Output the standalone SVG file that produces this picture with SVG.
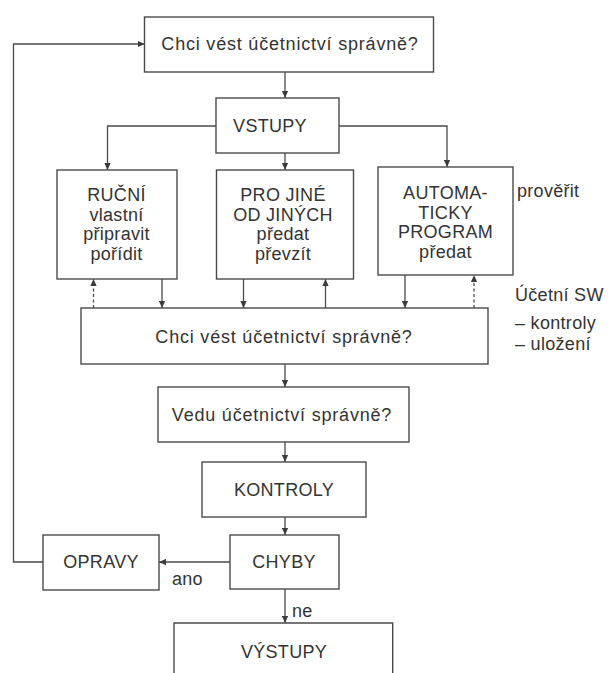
<svg xmlns="http://www.w3.org/2000/svg" width="612" height="673" viewBox="0 0 612 673">
  <defs>
    <marker id="ah" viewBox="0 0 10 10" refX="10" refY="5" markerWidth="7" markerHeight="7" markerUnits="userSpaceOnUse" orient="auto">
      <path d="M0,0.5 L10,5 L0,9.5 Z" fill="#3c3c3c"/>
    </marker>
  </defs>
  <style>
    .box { fill: #ffffff; stroke: #4a4a4a; stroke-width: 1.4; }
    .line { fill: none; stroke: #4a4a4a; stroke-width: 1.3; }
    .dash { stroke-dasharray: 3 2.5; }
    text { font-family: "Liberation Sans", Arial, sans-serif; font-size: 18px; fill: #333333; letter-spacing: 0.3px; }
    .q { letter-spacing: 0.8px; }
    .c { text-anchor: middle; }
  </style>
  <rect width="612" height="673" fill="#ffffff"/>

  <g id="connectors">
    <line class="line" x1="285" y1="72" x2="285" y2="98" marker-end="url(#ah)"/>
    <polyline class="line" points="216,126 107.5,126 107.5,170" marker-end="url(#ah)"/>
    <polyline class="line" points="339,126 447,126 447,167" marker-end="url(#ah)"/>
    <line class="line" x1="285" y1="153" x2="285" y2="170" marker-end="url(#ah)"/>
    <line class="line dash" x1="93.5" y1="308" x2="93.5" y2="279" marker-end="url(#ah)"/>
    <line class="line" x1="162" y1="279" x2="162" y2="308" marker-end="url(#ah)"/>
    <line class="line" x1="243.5" y1="279" x2="243.5" y2="308" marker-end="url(#ah)"/>
    <line class="line" x1="325.5" y1="308" x2="325.5" y2="279" marker-end="url(#ah)"/>
    <line class="line" x1="405" y1="275" x2="405" y2="308" marker-end="url(#ah)"/>
    <line class="line dash" x1="474" y1="308" x2="474" y2="275" marker-end="url(#ah)"/>
    <line class="line" x1="285" y1="364" x2="285" y2="387" marker-end="url(#ah)"/>
    <line class="line" x1="285" y1="442" x2="285" y2="462" marker-end="url(#ah)"/>
    <line class="line" x1="285" y1="517" x2="285" y2="535" marker-end="url(#ah)"/>
    <line class="line" x1="230" y1="562" x2="159" y2="562" marker-end="url(#ah)"/>
    <polyline class="line" points="43,562 13.5,562 13.5,44 144.5,44" marker-end="url(#ah)"/>
    <line class="line" x1="285" y1="589" x2="285" y2="623" marker-end="url(#ah)"/>
    <text x="172" y="585">ano</text>
    <text x="292" y="617">ne</text>
  </g>

  <g id="n-top">
    <rect class="box" x="144.5" y="17" width="289" height="55"/>
    <text class="c q" x="290" y="50">Chci vést účetnictví správně?</text>
  </g>

  <g id="n-vstupy">
    <rect class="box" x="216" y="98" width="123" height="55"/>
    <text class="c" x="270" y="132">VSTUPY</text>
  </g>

  <g id="n-rucni">
    <rect class="box" x="57" y="170" width="120" height="109"/>
    <text class="c" x="116.5" y="201">RUČNÍ</text>
    <text class="c" x="116.5" y="220.5">vlastní</text>
    <text class="c" x="116.5" y="240">připravit</text>
    <text class="c" x="116.5" y="259.5">pořídit</text>
  </g>

  <g id="n-projine">
    <rect class="box" x="216.5" y="170" width="137" height="109"/>
    <text class="c" x="283" y="201">PRO JINÉ</text>
    <text class="c" x="283" y="220.5">OD JINÝCH</text>
    <text class="c" x="283" y="240">předat</text>
    <text class="c" x="283" y="259.5">převzít</text>
  </g>

  <g id="n-auto">
    <rect class="box" x="378" y="167" width="135" height="108"/>
    <text class="c" x="445.5" y="199">AUTOMA-</text>
    <text class="c" x="445.5" y="218.5">TICKY</text>
    <text class="c" x="445.5" y="238">PROGRAM</text>
    <text class="c" x="445.5" y="257.5">předat</text>
  </g>

  <g id="n-notes">
    <text x="517" y="197">prověřit</text>
    <text x="515" y="301">Účetní SW</text>
    <text x="515" y="329">– kontroly</text>
    <text x="515" y="350">– uložení</text>
  </g>

  <g id="n-chci2">
    <rect class="box" x="81" y="308" width="407" height="56"/>
    <text class="c q" x="284" y="343">Chci vést účetnictví správně?</text>
  </g>

  <g id="n-vedu">
    <rect class="box" x="158" y="387" width="251" height="55"/>
    <text class="c q" x="282" y="421">Vedu účetnictví správně?</text>
  </g>

  <g id="n-kontroly">
    <rect class="box" x="202" y="462" width="164" height="55"/>
    <text class="c" x="284" y="496">KONTROLY</text>
  </g>

  <g id="n-chyby">
    <rect class="box" x="230" y="535" width="109" height="54"/>
    <text class="c" x="284" y="568">CHYBY</text>
  </g>

  <g id="n-opravy">
    <rect class="box" x="43" y="535" width="116" height="55"/>
    <text class="c" x="101" y="568">OPRAVY</text>
  </g>

  <g id="n-vystupy">
    <path class="box" d="M174,674 V623 H392.7 V674"/>
    <text class="c" x="284" y="658">VÝSTUPY</text>
  </g>
</svg>
